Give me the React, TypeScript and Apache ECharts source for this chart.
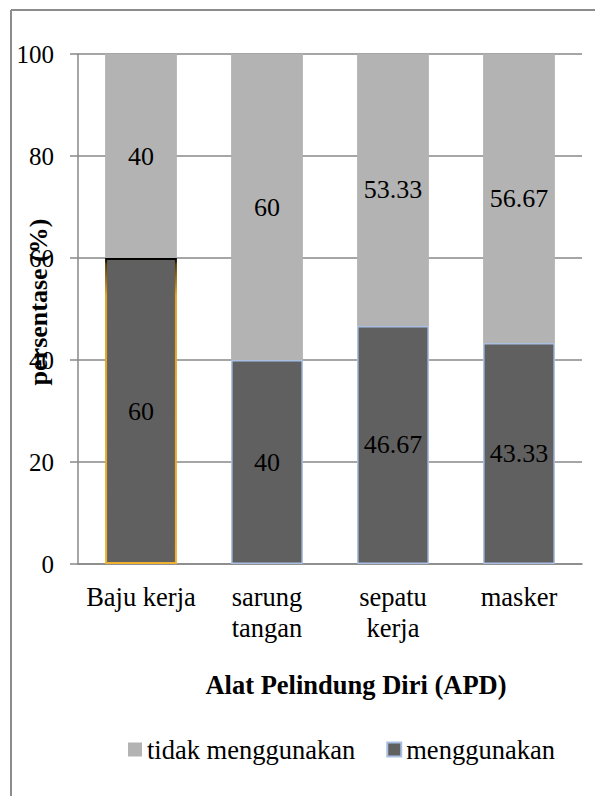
import React, { useEffect, useRef } from "react";
import * as echarts from "echarts";

const categories = ["Baju kerja", "sarung\ntangan", "sepatu\nkerja", "masker"];
const tidakMenggunakan = [40, 60, 53.33, 56.67];
const menggunakan = [60, 40, 46.67, 43.33];
const yTicks = { min: 0, max: 100, interval: 20 };
const seriesNames = ["tidak menggunakan", "menggunakan"];
const xTitle = "Alat Pelindung Diri (APD)";
const yTitle = "persentase (%)";

const FONT = "Liberation Serif";

export default function App() {
  const ref = useRef<HTMLDivElement>(null);
  useEffect(() => {
    if (!ref.current) return;
    const chart = echarts.init(ref.current, undefined, { renderer: "svg" });
    const bajuBorder = new echarts.graphic.LinearGradient(0, 0, 0, 1, [
      { offset: 0, color: "#000000" },
      { offset: 0.02, color: "#5a3c08" },
      { offset: 0.12, color: "#e0a020" },
      { offset: 1, color: "#f0b030" },
    ]);
    const option: any = {
      animation: false,
      backgroundColor: "#ffffff",
      textStyle: { fontFamily: FONT },
      grid: {
        left: 78,
        right: 13,
        top: 54,
        bottom: 232,
        containLabel: false,
        outerBoundsMode: "none",
      },
      legend: {
        data: seriesNames,
        left: 123,
        top: 731,
        icon: "rect",
        itemWidth: 14,
        itemHeight: 14,
        itemGap: 31,
        textStyle: { fontFamily: FONT, fontSize: 26.5, color: "#000" },
      },
      xAxis: {
        type: "category",
        data: categories,
        axisLine: { show: true, lineStyle: { color: "#888", width: 1.5 } },
        axisTick: { show: false },
        axisLabel: {
          fontFamily: FONT,
          fontSize: 26.5,
          color: "#000",
          margin: 17,
          lineHeight: 31,
          interval: 0,
        },
      },
      yAxis: {
        type: "value",
        min: yTicks.min,
        max: yTicks.max,
        interval: yTicks.interval,
        axisLine: { show: true, lineStyle: { color: "#888", width: 1.5 } },
        axisTick: { show: true, inside: false, length: 8, lineStyle: { color: "#888", width: 1.5 } },
        splitLine: { show: true, lineStyle: { color: "#888", width: 1.5 } },
        axisLabel: { fontFamily: FONT, fontSize: 25, color: "#000", margin: 24 },
      },
      graphic: [
        {
          type: "line",
          shape: { x1: 11, y1: 10, x2: 600, y2: 10 },
          style: { stroke: "#8c8c8c", lineWidth: 2 },
        },
        {
          type: "line",
          shape: { x1: 11, y1: 10, x2: 11, y2: 800 },
          style: { stroke: "#8c8c8c", lineWidth: 2 },
        },
        {
          type: "text",
          x: 356,
          y: 685,
          style: {
            text: xTitle,
            fontFamily: FONT,
            fontSize: 26.5,
            fontWeight: "bold",
            fill: "#000",
            textAlign: "center",
            textVerticalAlign: "middle",
          },
        },
        {
          type: "text",
          x: 38,
          y: 302,
          rotation: Math.PI / 2,
          style: {
            text: yTitle,
            fontFamily: FONT,
            fontSize: 26,
            fontWeight: "bold",
            fill: "#000",
            textAlign: "center",
            textVerticalAlign: "middle",
          },
        },
      ],
      series: [
        {
          name: seriesNames[1],
          type: "bar",
          stack: "total",
          barWidth: "57%",
          data: menggunakan.map((v, i) =>
            i === 0
              ? { value: v, itemStyle: { borderColor: bajuBorder, borderWidth: 2 } }
              : v
          ),
          itemStyle: { color: "#606060", borderColor: "#a9c0e4", borderWidth: 1.5 },
          label: {
            show: true,
            position: "inside",
            fontFamily: FONT,
            fontSize: 26,
            color: "#000",
          },
        },
        {
          name: seriesNames[0],
          type: "bar",
          stack: "total",
          barWidth: "57%",
          data: tidakMenggunakan,
          itemStyle: { color: "#b3b3b3" },
          label: {
            show: true,
            position: "inside",
            fontFamily: FONT,
            fontSize: 26,
            color: "#000",
          },
        },
      ],
    };
    chart.setOption(option);
    return () => chart.dispose();
  }, []);
  return (
    <div
      ref={ref}
      style={{ position: "fixed", left: 0, top: 0, width: 595, height: 796, background: "#fff" }}
    />
  );
}
